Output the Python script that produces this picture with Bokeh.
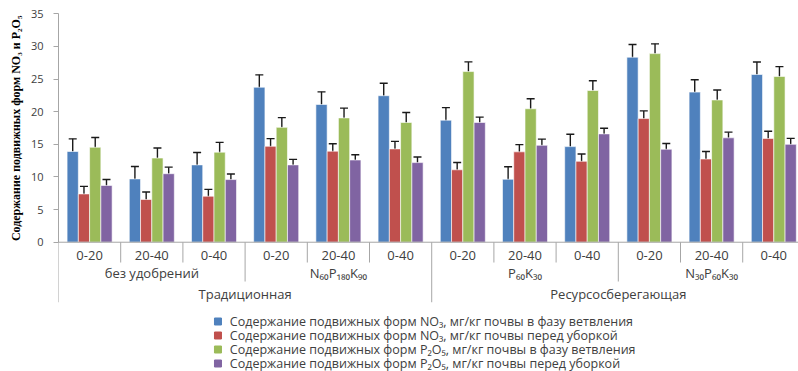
import math
from bokeh.plotting import figure
from bokeh.models import (Range1d, FixedTicker, ColumnDataSource, Whisker, TeeHead,
                          Span, Title)
from bokeh.core.properties import value
from bokeh.embed import file_html
from bokeh.resources import INLINE

# ---------------- data ----------------
depth_labels = ["0-20", "20-40", "0-40"]
fert_labels = ["без удобрений", "N₆₀P₁₈₀K₉₀", "P₆₀K₃₀", "N₃₀P₆₀K₃₀"]
system_labels = ["Традиционная", "Ресурсосберегающая"]

no3_branch = [13.9, 9.7, 11.85, 23.75, 21.1, 22.45, 18.7, 9.65, 14.65, 28.35, 23.0, 25.7]
no3_harvest = [7.4, 6.55, 7.05, 14.7, 13.95, 14.3, 11.1, 13.85, 12.4, 18.95, 12.75, 15.9]
p2o5_branch = [14.55, 12.9, 13.8, 17.6, 19.05, 18.35, 26.15, 20.45, 23.25, 28.9, 21.8, 25.4]
p2o5_harvest = [8.7, 10.5, 9.6, 11.85, 12.6, 12.2, 18.35, 14.85, 16.6, 14.25, 16.0, 15.0]

err_no3_branch = [1.94, 1.9, 1.9, 1.9, 1.94, 1.9, 1.92, 1.92, 1.9, 1.94, 1.89, 1.92]
err_no3_harvest = [1.15, 1.15, 1.05, 1.17, 1.15, 1.15, 1.12, 1.1, 1.12, 1.17, 1.15, 1.1]
err_p2o5_branch = [1.5, 1.53, 1.5, 1.5, 1.5, 1.53, 1.48, 1.53, 1.5, 1.5, 1.53, 1.5]
err_p2o5_harvest = [0.92, 1.0, 0.85, 0.85, 0.8, 0.85, 0.82, 0.95, 0.87, 0.87, 0.87, 0.92]

series_labels = [
    "Содержание подвижных форм NO₃, мг/кг почвы в фазу ветвления",
    "Содержание подвижных форм NO₃, мг/кг почвы перед уборкой",
    "Содержание подвижных форм P₂O₅, мг/кг почвы в фазу ветвления",
    "Содержание подвижных форм P₂O₅, мг/кг почвы перед уборкой",
]
y_title = "Содержание подвижных форм NO₃ и P₂O₅"
y_ticks = [0, 5, 10, 15, 20, 25, 30, 35]

# ---------------- style ----------------
colors = ["#4F81BD", "#C0504D", "#9BBB59", "#8064A2"]
axis_gray = "#A6A6A6"
text_gray = "#404040"
font = "Open Sans"

series_vals = [no3_branch, no3_harvest, p2o5_branch, p2o5_harvest]
series_errs = [err_no3_branch, err_no3_harvest, err_p2o5_branch, err_p2o5_harvest]

n_groups = len(no3_branch)
bar_w = 0.181

p = figure(width=798, height=371,
           x_range=Range1d(0, 11.897), y_range=Range1d(-19.81, 37.04),
           output_backend="svg", toolbar_location=None, x_axis_location=None,
           min_border_left=58, min_border_right=0, min_border_top=0, min_border_bottom=0)
p.outline_line_color = None
p.xgrid.visible = False
p.ygrid.visible = False
p.background_fill_color = "white"

# y axis
ya = p.yaxis[0]
ya.bounds = (0, 35)
ya.ticker = FixedTicker(ticks=y_ticks)
ya.axis_line_color = axis_gray
ya.major_tick_line_color = axis_gray
ya.minor_tick_line_color = None
ya.major_tick_in = 0
ya.major_tick_out = 5
ya.major_label_standoff = 10
ya.major_label_text_font = font
ya.major_label_text_font_size = "11px"
ya.major_label_text_color = text_gray

# y title (vertical, on the left), top end anchored near the top of the axis
p.add_layout(Title(text=y_title, align="right", offset=15, standoff=10,
                   text_font="Liberation Serif", text_font_style="bold",
                   text_font_size="12px", text_color="black"), "left")

# x axis line
p.add_layout(Span(location=0, dimension="width", line_color=axis_gray, line_width=1))

# bars + error bars
for j in range(4):
    xs = [i + 0.5 + (j - 1.5) * bar_w for i in range(n_groups)]
    vals = series_vals[j]
    errs = series_errs[j]
    src = ColumnDataSource(dict(x=xs, top=vals,
                                upper=[v + e for v, e in zip(vals, errs)],
                                lower=[v - e for v, e in zip(vals, errs)]))
    p.vbar(x="x", top="top", bottom=0, width=bar_w, source=src,
           fill_color=colors[j], line_color="white", line_alpha=0.6, line_width=1)
    w = Whisker(source=src, base="x", upper="upper", lower="lower",
                line_color="#1a1a1a", line_width=1.4,
                upper_head=TeeHead(size=8, line_color="#1a1a1a", line_width=1.4),
                lower_head=TeeHead(size=8, line_color="#1a1a1a", line_width=1.4))
    p.add_layout(w)

# category separators
depth1, depth2, depth3 = -3.11, -6.02, -9.2
sx, sy0, sy1 = [], [], []
for k in range(n_groups + 1):
    sx.append(k)
    sy0.append(0)
    if k % 6 == 0:
        sy1.append(depth3)
    elif k % 3 == 0:
        sy1.append(depth2)
    else:
        sy1.append(depth1)
p.segment(x0=sx, y0=sy0, x1=sx, y1=sy1, line_color=axis_gray, line_width=1)

# category labels
lbl = dict(text_align="center", text_baseline="middle", text_font=value(font),
           text_font_size="13px", text_color=text_gray)
lvl1_x = [i + 0.5 for i in range(n_groups)]
lvl1_t = [depth_labels[i % 3] for i in range(n_groups)]
p.text(x=lvl1_x, y=[-2.04] * n_groups, text=lvl1_t, **lbl)
lvl2_x = [3 * i + 1.5 for i in range(len(fert_labels))]
p.text(x=lvl2_x, y=[-4.79] * len(fert_labels), text=fert_labels, **lbl)
lvl3_x = [6 * i + 3 for i in range(len(system_labels))]
p.text(x=lvl3_x, y=[-7.86] * len(system_labels), text=system_labels, **lbl)

# legend (drawn below the categories)
leg_sq_x, leg_txt_x = 2.564, 2.754
leg_y0, leg_dy = -12.15, -2.145
leg_y = [leg_y0 + k * leg_dy for k in range(len(series_labels))]
p.scatter(x=[leg_sq_x] * len(series_labels), y=leg_y, marker="square", size=7,
          fill_color=colors, line_color=colors)
p.text(x=[leg_txt_x] * len(series_labels), y=leg_y, text=series_labels,
       text_align="left", text_baseline="middle", text_font=value(font),
       text_font_size="12.5px", text_color=text_gray)

open("out.html", "w").write(file_html(p, INLINE))
